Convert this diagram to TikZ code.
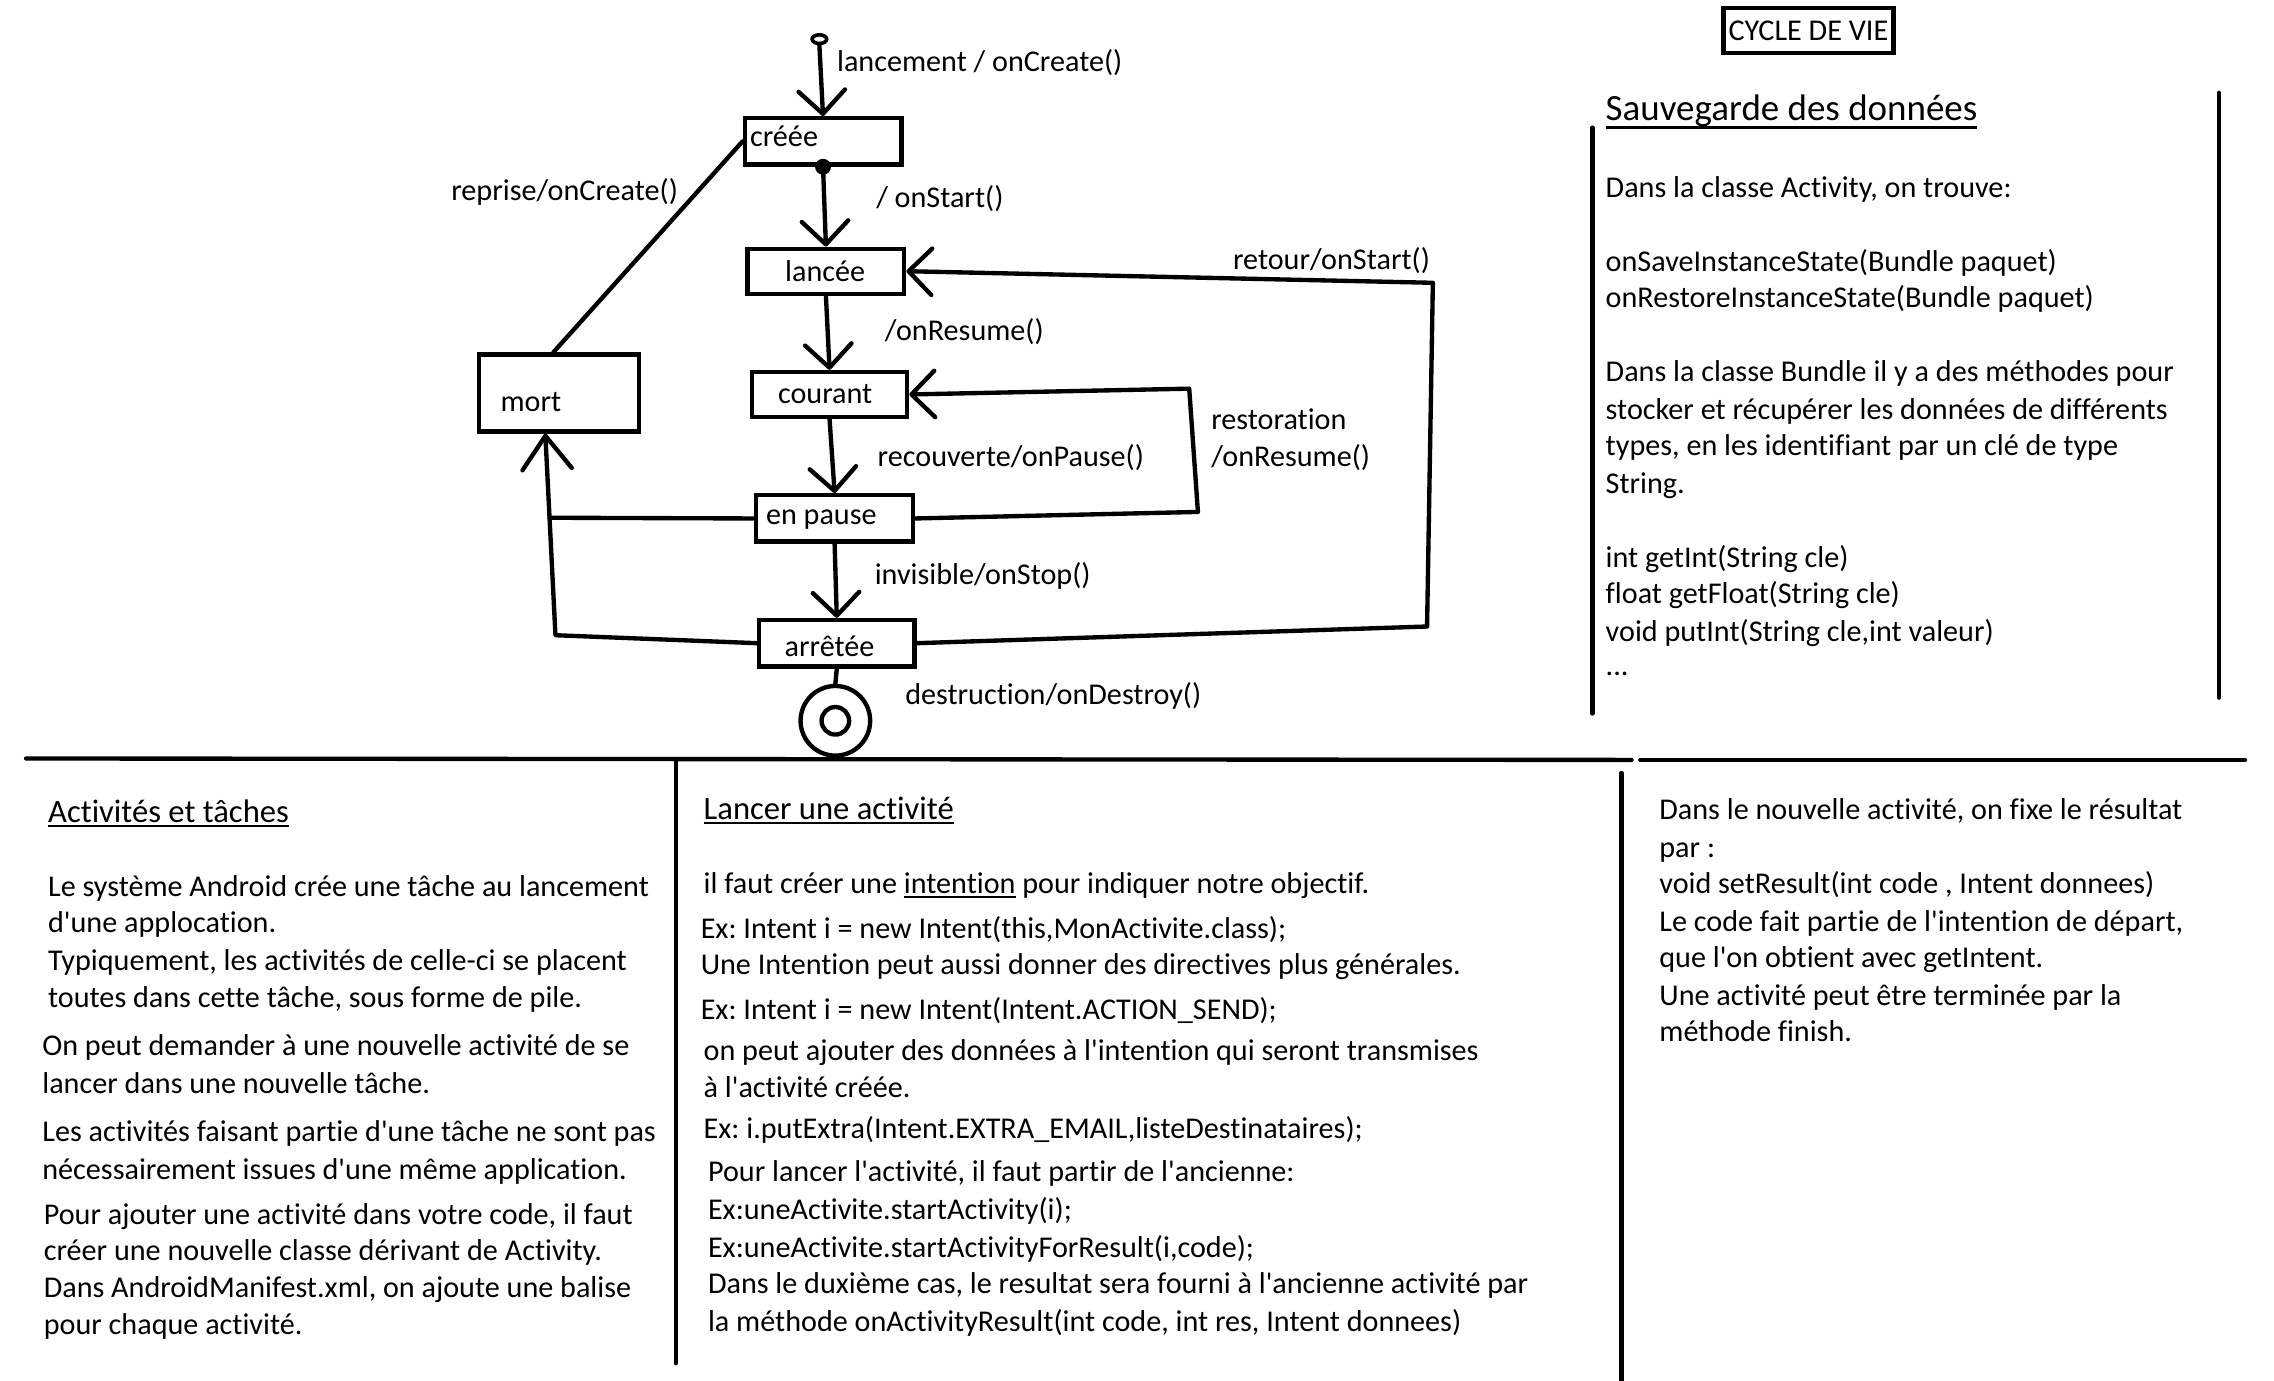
\documentclass[tikz,border=0pt]{standalone}
\usepackage{fontspec}
\setmainfont{Carlito}[Ligatures={TeXOff,NoCommon}]
\usetikzlibrary{arrows.meta,shapes.geometric}

% underline drawn as a rule below the baseline
\newcommand\ulin[2][4pt]{\setbox0\hbox{#2}\rlap{\rule[-#1]{\wd0}{1.8pt}}\box0\relax}

\tikzset{
  txt/.style={inner sep=0pt, anchor=base west, font=\frenchspacing\fontsize{20.8}{25.5}\selectfont},
  head/.style={txt, font=\frenchspacing\fontsize{22.5}{27}\selectfont},
  bighead/.style={txt, font=\frenchspacing\fontsize{25.5}{30}\selectfont},
  statebox/.style={draw, line width=3pt, rectangle, inner sep=0pt},
  wire/.style={line width=3pt, line cap=round, line join=round},
  arr/.style={wire, -{Straight Barb[length=16pt,width=32pt,round]}},
  bigarr/.style={wire, -{Straight Barb[length=23pt,width=34pt,round]}},
  sepline/.style={line width=3pt, line cap=round},
}

\begin{document}
\begin{tikzpicture}[x=1pt, y=-1pt]
\fill[white] (0,0) rectangle (1568,952);
\useasboundingbox (0,0) rectangle (1568,952);

% ---------- state diagram ----------
\node[ellipse, draw, line width=2.5pt, minimum width=10pt, minimum height=6pt, inner sep=0pt] (init) at (565,27) {};
\node[statebox, minimum width=108pt, minimum height=32pt] (creee) at (567.5,97.5) {};
\node[statebox, minimum width=108pt, minimum height=31pt] (lancee) at (569.5,187) {};
\node[statebox, minimum width=107pt, minimum height=31pt] (courant) at (572,272) {};
\node[statebox, minimum width=108pt, minimum height=32pt] (pause) at (575.5,357.5) {};
\node[statebox, minimum width=107pt, minimum height=32pt] (arretee) at (577,443.5) {};
\node[statebox, minimum width=110pt, minimum height=53pt] (mort) at (385.5,271) {};
\node[circle, fill, inner sep=0pt, minimum size=11pt] (dot) at (creee.south) {};
\node[circle, draw, line width=3pt, inner sep=0pt, minimum size=48pt] (fin) at (576,497) {};
\node[circle, draw, line width=3pt, inner sep=0pt, minimum size=19pt] (finIn) at (fin.center) {};

% state names
\node[txt] (creeeT) at (517,101) {créée};
\node[txt, anchor=base] (lanceeT) at (569,194) {lancée};
\node[txt, anchor=base] (courantT) at (569,278) {courant};
\node[txt] (pauseT) at (528,362) {en pause};
\node[txt, anchor=base] (arreteeT) at (572,453) {arrêtée};
\node[txt] (mortT) at (345,284) {mort};

% bend points of the long transitions
\coordinate (rt1) at (984,432);
\coordinate (rt2) at (988,195);
\coordinate (rs1) at (826,353);
\coordinate (rs2) at (820,268);
\coordinate (mk1) at (383,438);
\coordinate (mk2) at (379,357);

% transitions
\draw[arr] (init.south) -- (creee.north);
\draw[arr] (dot.center) -- (lancee.north);
\draw[arr] (lancee.south) -- (courant.north);
\draw[arr] (courant.south) -- (pause.north);
\draw[arr] (pause.south) -- (arretee.north);
\draw[wire] (arretee.south) -- (fin.north);
\draw[wire] (creee.west) -- ([xshift=-4pt]mort.north);
\draw[arr] (arretee.east) -- (rt1) -- (rt2) -- (lancee.east);
\draw[arr] (pause.east) -- (rs1) -- (rs2) -- (courant.east);
\draw[bigarr] (arretee.west) -- (mk1) -- ([xshift=-9.5pt]mort.south);
\draw[wire] (pause.west) -- (mk2);

% transition labels
\node[txt] (lbLanc) at (577,49) {lancement / onCreate()};
\node[txt] (lbStart) at (604,143) {/ onStart()};
\node[txt] (lbRepr) at (311,138) {reprise/onCreate()};
\node[txt] (lbRet) at (850,186) {retour/onStart()};
\node[txt] (lbRes) at (610,235) {/onResume()};
\node[txt] (lbRest1) at (835,296) {restoration};
\node[txt] (lbRest2) at (835,322) {/onResume()};
\node[txt] (lbRecv) at (605,322) {recouverte/onPause()};
\node[txt] (lbStop) at (603,403) {invisible/onStop()};
\node[txt] (lbDest) at (624,486) {destruction/onDestroy()};

% ---------- title and data saving panel ----------
\node[draw, line width=3pt, minimum width=117pt, minimum height=31pt, inner sep=0pt,
      font=\fontsize{20.8}{25.5}\selectfont] (cycle) at (1247,21) {CYCLE DE VIE};
\node[bighead] (sauvH) at (1107,83) {\ulin[6pt]{Sauvegarde des données}};
\node[txt] (s1) at (1107,136) {Dans la classe Activity, on trouve:};
\node[txt] (s2) at (1107,187) {onSaveInstanceState(Bundle paquet)};
\node[txt] (s3) at (1107,212) {onRestoreInstanceState(Bundle paquet)};
\node[txt] (s4) at (1107,263) {Dans la classe Bundle il y a des méthodes pour};
\node[txt] (s5) at (1107,289) {stocker et récupérer les données de différents};
\node[txt] (s6) at (1107,314) {types, en les identifiant par un clé de type};
\node[txt] (s7) at (1107,340) {String.};
\node[txt] (s8) at (1107,391) {int getInt(String cle)};
\node[txt] (s9) at (1107,416) {float getFloat(String cle)};
\node[txt] (s10) at (1107,442) {void putInt(String cle,int valeur)};
\node[txt] (s11) at (1107,466) {...};

% ---------- separators ----------
\draw[sepline] (18,523) -- (1125,524);
\draw[sepline] (1131,524) -- (1548,524);
\draw[sepline] (466,524) -- (466,940);
\draw[sepline] (1118,533) -- (1118,952);
\draw[sepline] (1098,88) -- (1098,492);
\draw[sepline] (1530,64) -- (1530,481);

% ---------- activities and tasks ----------
\node[head] (actH) at (33,567) {\ulin[3.5pt]{Activités et tâches}};
\node[txt] (a1) at (33,618) {Le système Android crée une tâche au lancement};
\node[txt] (a2) at (33,643) {d'une applocation.};
\node[txt] (a3) at (33,669) {Typiquement, les activités de celle-ci se placent};
\node[txt] (a4) at (33,695) {toutes dans cette tâche, sous forme de pile.};
\node[txt] (a5) at (29,728) {On peut demander à une nouvelle activité de se};
\node[txt] (a6) at (29,754) {lancer dans une nouvelle tâche.};
\node[txt] (a7) at (29,787) {Les activités faisant partie d'une tâche ne sont pas};
\node[txt] (a8) at (29,813) {nécessairement issues d'une même application.};
\node[txt] (a9) at (30,844) {Pour ajouter une activité dans votre code, il faut};
\node[txt] (a10) at (30,869) {créer une nouvelle classe dérivant de Activity.};
\node[txt] (a11) at (30,895) {Dans AndroidManifest.xml, on ajoute une balise};
\node[txt] (a12) at (30,920) {pour chaque activité.};

% ---------- launching an activity ----------
\node[head] (lanH) at (485,565) {\ulin[3.5pt]{Lancer une activité}};
\node[txt] (m1) at (485,616) {il faut créer une \ulin[3.5pt]{intention} pour indiquer notre objectif.};
\node[txt] (m2) at (483,647) {Ex: Intent i = new Intent(this,MonActivite.class);};
\node[txt] (m3) at (483,672) {Une Intention peut aussi donner des directives plus générales.};
\node[txt] (m4) at (483,703) {Ex: Intent i = new Intent(Intent.ACTION\_SEND);};
\node[txt] (m5) at (485,731) {on peut ajouter des données à l'intention qui seront transmises};
\node[txt] (m6) at (485,757) {à l'activité créée.};
\node[txt] (m7) at (485,785) {Ex: i.putExtra(Intent.EXTRA\_EMAIL,listeDestinataires);};
\node[txt] (m8) at (488,815) {Pour lancer l'activité, il faut partir de l'ancienne:};
\node[txt] (m9) at (488,841) {Ex:uneActivite.startActivity(i);};
\node[txt] (m10) at (488,867) {Ex:uneActivite.startActivityForResult(i,code);};
\node[txt] (m11) at (488,892) {Dans le duxième cas, le resultat sera fourni à l'ancienne activité par};
\node[txt] (m12) at (488,918) {la méthode onActivityResult(int code, int res, Intent donnees)};

% ---------- result of an activity ----------
\node[txt] (r1) at (1144,565) {Dans le nouvelle activité, on fixe le résultat};
\node[txt] (r2) at (1144,591) {par :};
\node[txt] (r3) at (1144,616) {void setResult(int code , Intent donnees)};
\node[txt] (r4) at (1144,642) {Le code fait partie de l'intention de départ,};
\node[txt] (r5) at (1144,667) {que l'on obtient avec getIntent.};
\node[txt] (r6) at (1144,693) {Une activité peut être terminée par la};
\node[txt] (r7) at (1144,718) {méthode finish.};
\end{tikzpicture}
\end{document}
